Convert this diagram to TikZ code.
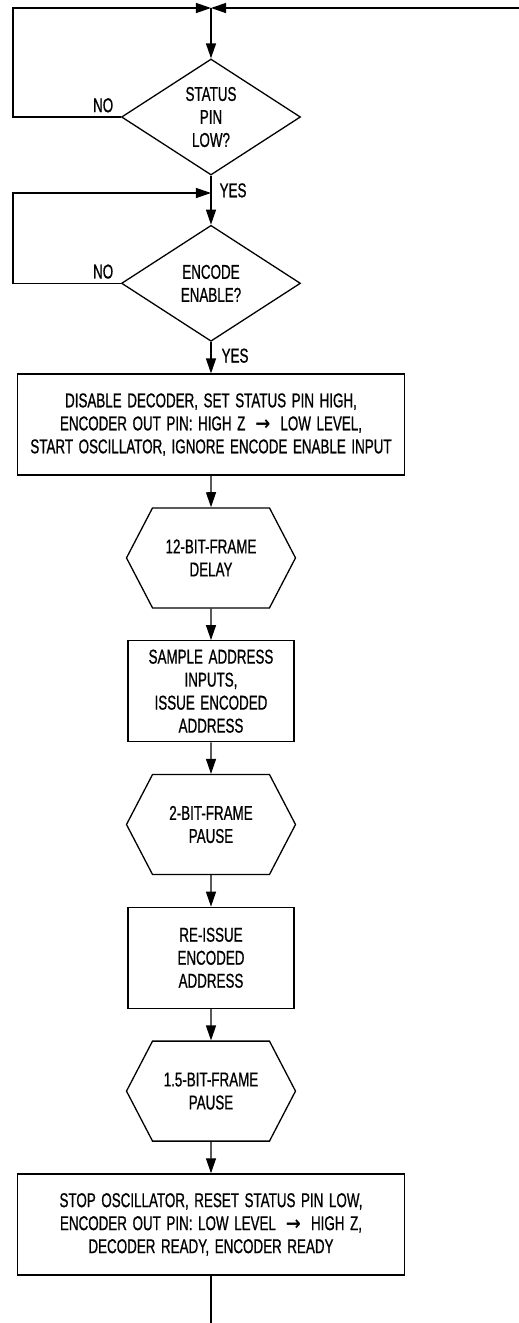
\documentclass[tikz,border=0pt]{standalone}
\usepackage{fontspec}
\setmainfont[FakeStretch=0.67, FakeBold=0.8, WordSpace=1.5]{Liberation Sans}
\newfontfamily\arrowfont[FakeStretch=0.9]{DejaVu Sans}
\newcommand{\goesto}{\enspace{\arrowfont\bfseries →}\enspace}
\usetikzlibrary{shapes.geometric, shapes.symbols, arrows.meta, positioning}

\begin{document}
\begin{tikzpicture}[node distance=133.3pt, line width=1.3pt, font=\fontsize{20}{23}\selectfont]

        % Define styles for each type of node
        \tikzstyle{decision} = [diamond, minimum width=179pt, minimum height=116pt, inner sep=0pt, align=center, draw=black]
        \tikzstyle{widebox} = [rectangle, minimum width=387pt, minimum height=101pt, align=center, draw=black]
        \tikzstyle{process} = [rectangle, minimum width=166pt, minimum height=101pt, align=center, draw=black]
        \tikzstyle{pause} = [signal, signal to=west and east, signal pointer angle=125, minimum width=169pt, minimum height=100pt, inner sep=0pt, align=center, draw=black]
        \tikzstyle{answer} = [inner sep=1pt]

        % Define arrow style
        \tikzstyle{arrow} = [->, >={Triangle[length=15pt, width=10pt]}]

        \useasboundingbox (-211pt,8pt) rectangle (308pt,-1315pt);

        % Junctions and loose ends
        \coordinate (top) at (0,0);
        \coordinate (feed) at (308pt,0);
        \coordinate (join) at (0,-185pt);
        \coordinate (loopa) at (-198pt,0);
        \coordinate (loopb) at (-198pt,-185pt);
        \coordinate (exit) at (0,-1315pt);

        % Nodes
        \node (status) [decision] at (0,-109pt) {STATUS\\PIN\\LOW?};
        \node (encode) [decision, below of=status, yshift=-33pt] {ENCODE\\ENABLE?};
        \node (setup) [widebox, below of=encode, yshift=-8pt] {DISABLE DECODER, SET STATUS PIN HIGH,\\ENCODER OUT PIN: HIGH Z\goesto LOW LEVEL,\\START OSCILLATOR, IGNORE ENCODE ENABLE INPUT};
        \node (delay) [pause, below of=setup] {12-BIT-FRAME\\DELAY};
        \node (sample) [process, below of=delay] {SAMPLE ADDRESS\\INPUTS,\\ISSUE ENCODED\\ADDRESS};
        \node (pausea) [pause, below of=sample] {2-BIT-FRAME\\PAUSE};
        \node (reissue) [process, below of=pausea] {RE-ISSUE\\ENCODED\\ADDRESS};
        \node (pauseb) [pause, below of=reissue] {1.5-BIT-FRAME\\PAUSE};
        \node (reset) [widebox, below of=pauseb] {STOP OSCILLATOR, RESET STATUS PIN LOW,\\ENCODER OUT PIN: LOW LEVEL\goesto HIGH Z,\\DECODER READY, ENCODER READY};

        % Branch labels
        \node (noa) [answer, above left=3pt and 6pt of status.west] {NO};
        \node (yesa) [answer, below right=6pt and 7pt of status.south] {YES};
        \node (nob) [answer, above left=3pt and 6pt of encode.west] {NO};
        \node (yesb) [answer, below right=5pt and 9pt of encode.south] {YES};

        % Arrows
        \draw [arrow] (feed) -- (top);
        \draw [arrow] (status.west) -| (loopa) -- (top);
        \draw [arrow] (top) -- (status);
        \draw (status) -- (join);
        \draw [arrow] (encode.west) -| (loopb) -- (join);
        \draw [arrow] (join) -- (encode);
        \draw [arrow] (encode) -- (setup);
        \draw [arrow] (setup) -- (delay);
        \draw [arrow] (delay) -- (sample);
        \draw [arrow] (sample) -- (pausea);
        \draw [arrow] (pausea) -- (reissue);
        \draw [arrow] (reissue) -- (pauseb);
        \draw [arrow] (pauseb) -- (reset);
        \draw (reset) -- (exit);

\end{tikzpicture}
\end{document}
